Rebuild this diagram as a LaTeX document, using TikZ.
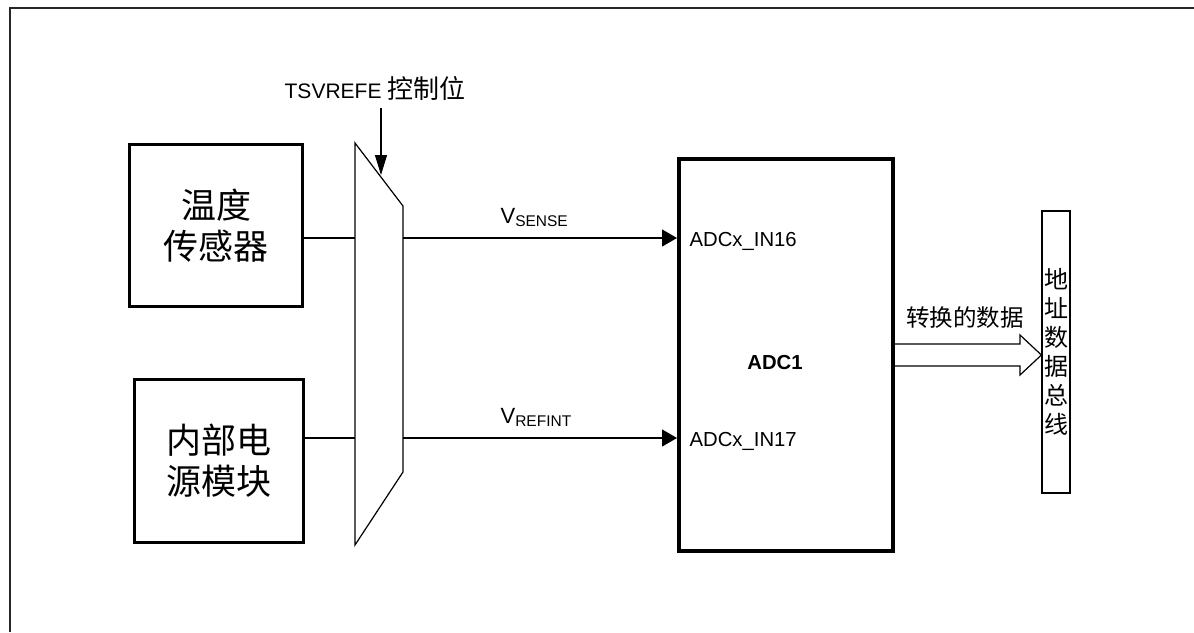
\documentclass[tikz,border=0pt]{standalone}
\usepackage{fontspec}
\setmainfont{Liberation Sans}
\newfontfamily\cjk{Noto Sans CJK SC}
\usetikzlibrary{arrows.meta}

\begin{document}
\begin{tikzpicture}[x=1pt,y=-1pt,line width=1.2pt,
 blk/.style={draw,line width=3pt,inner sep=0pt,align=center,font=\cjk\fontsize{35}{41}\selectfont},
 lbl/.style={inner sep=0pt,font=\fontsize{20.3}{22}\selectfont},
 sig/.style={-{Triangle[length=15pt,width=17pt]}}]
\useasboundingbox (0,0) rectangle (1194,632);
\draw[line width=1.6pt,black!85] (10,632)--(10,8)--(1194,8);
% sources and mux
\node[blk,minimum width=173,minimum height=162] (temp) at (216,225.5){温度\\传感器};
\node[blk,minimum width=169,minimum height=163] (vref) at (219,461){内部电\\源模块};
\coordinate (m1) at (355,143);\coordinate (m2) at (403,206);
\coordinate (m3) at (403,472);\coordinate (m4) at (355,545);
\draw (m1)--(m2)--(m3)--(m4)--cycle;
\node[inner sep=6pt,font=\fontsize{21}{24}\selectfont] (ctrl) at (375,89){TSVREFE {\cjk\fontsize{26}{28}\selectfont 控制位}};
\coordinate (sel) at (381,175);
\draw[-{Triangle[length=20pt,width=12pt]}] (ctrl.south-|sel)--(sel);
% adc
\node[draw,line width=4pt,minimum width=214,minimum height=392] (adc) at (786,355){};
\node[lbl,font=\bfseries\fontsize{20.3}{22}\selectfont] (name) at (775,363){ADC1};
\foreach \y/\n/\v in {238/16/SENSE,438/17/REFINT}{
\coordinate (i\n) at (m1|-0,\y);\coordinate (o\n) at (m2|-0,\y);
\node[lbl,anchor=west] (in\n) at (689,\y+3){ADCx\_IN\n};
\node[lbl,anchor=base west] (v\n) at (500,\y-15){\fontsize{22}{24}\selectfont V\raisebox{-3.5pt}{\fontsize{15.5}{16}\selectfont\v}};
\draw[sig] (o\n)--(adc.west|-o\n);}
\draw (temp.east|-i16)--(i16);\draw (vref.east|-i17)--(i17);
% bus
\node[draw,inner sep=0pt,minimum width=28,minimum height=282,align=center,
 font=\cjk\fontsize{24}{29}\selectfont] (bus) at (1056,352){地\\址\\数\\据\\总\\线};
\coordinate (h1) at (1020,344);\coordinate (h2) at (1020,335);\coordinate (tip) at (1020,355);
\coordinate (h3) at (1020,375);\coordinate (h4) at (1020,366);
\draw (adc.east|-h1)--(h1)--(h2)--(bus.west|-tip)--(h3)--(h4)--(adc.east|-h4);
\node[font=\cjk\fontsize{23.5}{26}\selectfont] (data) at (965,318){转换的数据};
\end{tikzpicture}
\end{document}
